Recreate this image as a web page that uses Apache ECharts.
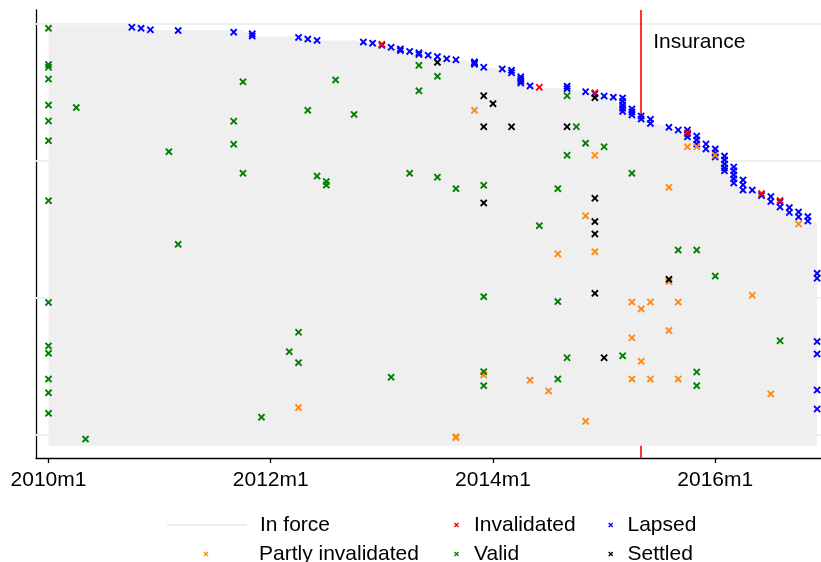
<!DOCTYPE html>
<html><head><meta charset="utf-8">
<script src="https://cdn.jsdelivr.net/npm/echarts@6/dist/echarts.min.js"></script>
<style>html,body{margin:0;padding:0;background:#fff}#c{width:821px;height:562px}</style>
</head><body><div id="c"></div>
<script>
// ---- data (x = months since 2010m1, y = policy position) ----
const tickMonths = [0, 24, 48, 72];
const tickLabels = ['2010m1', '2012m1', '2014m1', '2016m1'];
const gridValues = [3.9, 53.9, 103.9, 153.9];
const insuranceMonth = 64;
const insuranceLabelY = 147.4;

// policies in force, one value per month from 2010m1 to 2016m12
const inForce = [
  153.3,153.3,153.3,153.3,153.3,153.3,153.3,153.3,153.3,153.3,153.3,
  151.7,151.7,151.7,151.7,151.7,151.7,151.7,151.7,151.7,151.7,151.7,
  149.3,149.3,149.3,149.3,149.3,149.3,149.3,
  147.9,147.9,147.9,147.9,147.9,
  147.3,146.8,146.1,145.3,144.4,143.9,143.0,142.4,141.9,141.1,
  140.6,140.6,139.3,137.8,137.7,137.3,136.4,133.5,131.3,130.5,
  130.5,130.5,130.2,129.8,129.1,128.4,127.4,126.9,121.8,120.7,
  119.4,117.4,117.4,116.0,115.0,111.9,110.5,107.9,106.1,100.6,
  96.2,93.3,93.0,91.5,88.9,86.8,84.9,83.1,81.6,81.6
];

const lapsed = [
  [9,152.7],[10,152.3],[11,151.8],[14,151.5],[20,150.9],[22,150.3],[22,149.5],[27,149.0],[28,148.4],[29,147.9],
  [34,147.3],[35,146.9],[36,146.1],[37,145.4],[38,144.8],[38,144.2],[39,143.9],[40,143.4],[40,142.8],[41,142.5],
  [42,142.0],[43,141.2],[44,140.8],[46,140.1],[46,139.7],[46,139.2],[47,138.1],[49,137.5],[50,137.0],[50,136.1],
  [51,134.6],[51,133.8],[51,133.1],[51,132.4],[52,131.3],[56,131.2],[56,130.3],[58,129.2],[59,128.4],[60,127.6],
  [61,127.2],[62,126.9],[62,125.6],[62,124.3],[62,123.1],[62,122.0],[63,122.9],[63,121.8],[63,120.7],[64,120.3],
  [64,119.2],[65,119.1],[65,117.6],[67,116.2],[68,115.2],[69,115.2],[69,113.9],[69,112.7],[70,113.0],[70,111.6],
  [70,110.1],[71,110.1],[71,108.3],[72,108.3],[72,106.8],[72,105.4],[73,105.7],[73,104.3],[73,102.8],[73,101.4],
  [73,100.3],[74,101.7],[74,100.3],[74,98.8],[74,97.4],[74,95.9],[75,97.0],[75,95.2],[75,93.3],[76,93.3],
  [77,91.3],[78,90.9],[78,89.1],[79,88.9],[79,87.1],[80,86.9],[80,85.1],[81,85.3],[81,83.5],[82,83.6],[82,82.0],
  [83,62.9],[83,61.1],[83,38.0],[83,33.5],[83,20.3],[83,13.4]
];

const invalidated = [[36,146.5],[53,130.8],[59,128.8],[69,114.2],[77,92.0],[79,89.5]];

const partlyInvalidated = [
  [46,122.4],[59,106.0],[58,83.9],[67,94.3],[69,109.1],[70,109.1],[72,106.0],[81,80.9],[27,13.9],[44,3.3],
  [44,2.9],[47,25.8],[52,23.9],[54,20.0],[55,70.0],[59,70.8],[67,59.9],[63,52.4],[64,49.9],[65,52.4],
  [68,52.4],[76,54.9],[67,42.0],[63,39.4],[64,30.8],[63,24.3],[65,24.3],[68,24.3],[78,18.9],[58,8.9]
];

const valid = [
  [0,152.3],[0,139.1],[0,138.1],[0,133.8],[0,124.3],[3,123.4],[0,118.5],[0,111.3],[13,107.3],[20,118.4],
  [20,110.0],[21,132.8],[21,99.4],[0,89.4],[40,138.8],[42,134.8],[40,129.5],[31,133.5],[28,122.4],[33,120.9],
  [29,98.4],[30,96.4],[30,95.1],[39,99.4],[42,98.0],[44,93.8],[47,95.0],[53,80.3],[56,127.7],[57,116.4],
  [58,110.4],[60,109.1],[56,106.0],[63,99.4],[55,93.8],[14,73.5],[0,52.3],[0,36.4],[0,33.7],[0,24.3],
  [0,19.3],[0,11.8],[23,10.4],[4,2.4],[47,54.4],[27,41.4],[26,34.3],[27,30.3],[37,25.0],[47,27.0],
  [47,21.9],[55,52.6],[68,71.4],[70,71.4],[72,61.9],[56,32.1],[62,32.8],[55,24.3],[70,26.9],[70,21.9],
  [79,38.3]
];

const settled = [
  [42,139.9],[47,127.7],[48,124.8],[47,116.4],[50,116.4],[47,88.6],[56,116.4],[59,127.0],[59,90.3],[59,81.8],
  [59,77.3],[67,60.7],[59,55.6],[60,32.1]
];

// ---- chart ----
const X = 'path://M0,1.8L1.8,0L5,3.2L8.2,0L10,1.8L6.8,5L10,8.2L8.2,10L5,6.8L1.8,10L0,8.2L3.2,5Z';
const font = "'Liberation Sans', Arial, Helvetica, sans-serif";

function sc(name, data, color, z) {
  return { name, type: 'scatter', data, symbol: X, symbolSize: 7.5,
    itemStyle: { color, opacity: 1 }, z, silent: true, animation: false };
}
function leg(name, left, top, iw, pad, extra) {
  return Object.assign({ data: [name], left, top, orient: 'horizontal', itemWidth: iw, itemHeight: 5,
    padding: 0, itemGap: 0, selectedMode: false,
    textStyle: { fontSize: 21, color: '#000', fontFamily: font, padding: [0, 0, 0, pad] },
    lineStyle: { width: 2, color: '#ececec' } }, extra || {});
}

const chart = echarts.init(document.getElementById('c'), null, { renderer: 'canvas' });
chart.setOption({
  animation: false,
  backgroundColor: '#fff',
  textStyle: { fontFamily: font },
  grid: { left: 36, right: 0, top: 10, bottom: 104 },
  xAxis: {
    type: 'value', min: -1.35, max: 83.42,
    axisLine: { show: true, onZero: false, lineStyle: { color: '#000', width: 1.3 } },
    axisTick: { show: true, customValues: tickMonths, length: 5, lineStyle: { color: '#000', width: 1.3 } },
    axisLabel: { show: true, customValues: tickMonths, formatter: v => tickLabels[tickMonths.indexOf(v)] || '',
      fontSize: 21, color: '#000', fontFamily: font, margin: 12 },
    splitLine: { show: false }
  },
  yAxis: {
    type: 'value', min: -4.49, max: 159.0,
    axisLine: { show: true, onZero: false, lineStyle: { color: '#000', width: 1.3 } },
    axisTick: { show: false }, axisLabel: { show: false }, splitLine: { show: false }
  },
  legend: [
    leg('In force', 166, 514.5, 80, 8, { itemStyle: { color: 'rgba(0,0,0,0)', borderWidth: 0 } }),
    leg('Invalidated', 454, 514.5, 5, 10),
    leg('Lapsed', 608.2, 514.5, 5, 9.3),
    leg('Partly invalidated', 203.5, 543.5, 5, 45.5),
    leg('Valid', 454, 543.5, 5, 10),
    leg('Settled', 608.2, 543.5, 5, 9.3)
  ],
  series: [
    {
      name: 'In force', type: 'line', data: inForce.map((v, i) => [i, v]), symbol: 'none', z: 2,
      silent: true, lineStyle: { width: 0, color: '#efefef' }, itemStyle: { color: '#ececec' },
      areaStyle: { color: '#efefef', opacity: 1 },
      markLine: {
        silent: true, symbol: 'none', z: 1, animation: false, label: { show: false },
        data: gridValues.map(v => ({ yAxis: v, lineStyle: { color: '#eaf1f3', width: 2, type: 'solid' } }))
          .concat([{ xAxis: insuranceMonth, lineStyle: { color: '#ff0000', width: 1.6, type: 'solid' } }])
      }
    },
    sc('Lapsed', lapsed, '#0000ff', 3),
    sc('Invalidated', invalidated, '#ff0000', 4),
    sc('Partly invalidated', partlyInvalidated, '#ff8a14', 5),
    sc('Valid', valid, '#008000', 6),
    sc('Settled', settled, '#000000', 7),
    {
      name: 'annot', type: 'scatter', data: [[insuranceMonth, insuranceLabelY]], symbolSize: 1, z: 8, silent: true,
      itemStyle: { color: 'rgba(0,0,0,0)' },
      label: { show: true, position: 'right', distance: 11.5, formatter: 'Insurance', opacity: 1,
        fontSize: 21, color: '#000', fontFamily: font }
    }
  ]
});
</script></body></html>
